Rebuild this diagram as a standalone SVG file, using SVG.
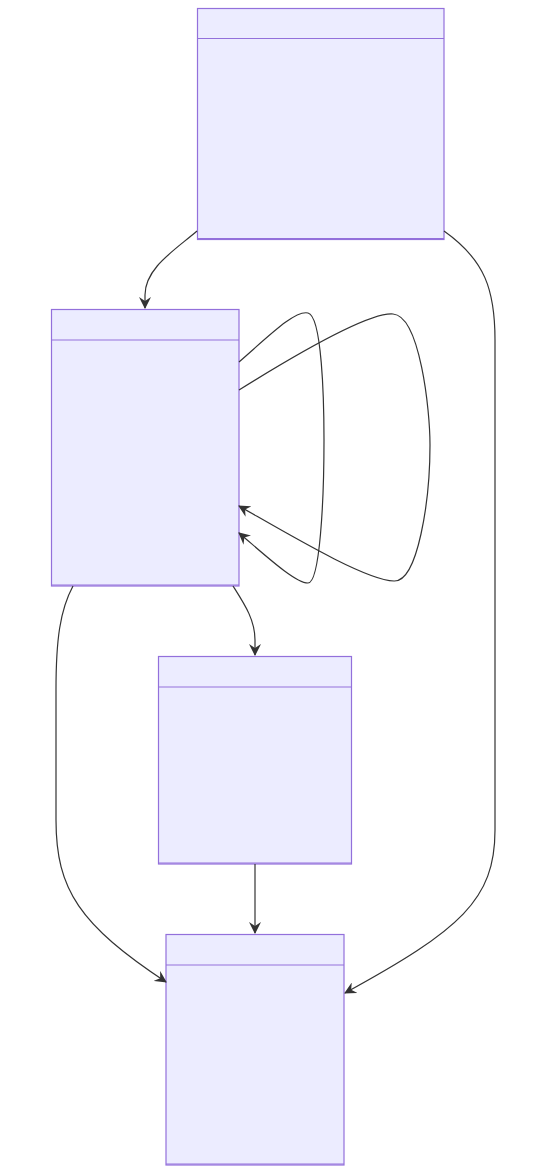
<svg xmlns="http://www.w3.org/2000/svg" width="539" height="1174" viewBox="0 0 539 1174">
<style>
.box{fill:#ECECFF;stroke:#9370DB;stroke-width:1.2}
.div{stroke:#9370DB;stroke-width:1.2}
.edge{fill:none;stroke:#333;stroke-width:1.2;marker-end:url(#arr)}
</style>
<defs>
<marker id="arr" viewBox="0 0 12 12" refX="11" refY="6" markerWidth="12" markerHeight="12" markerUnits="userSpaceOnUse" orient="auto">
<path d="M0,0 L12,6 L0,12 L4,6 z" fill="#333"/>
</marker>
</defs>
<rect width="539" height="1174" fill="#fff"/>
<g id="nodeA"><rect class="box" x="197.5" y="8.5" width="246.5" height="231"/><line class="div" x1="197.5" y1="38.5" x2="444" y2="38.5"/><line class="div" x1="197.5" y1="238.5" x2="444" y2="238.5"/></g>
<g id="nodeB"><rect class="box" x="51.5" y="309.5" width="187.5" height="276.5"/><line class="div" x1="51.5" y1="340" x2="239" y2="340"/><line class="div" x1="51.5" y1="585" x2="239" y2="585"/></g>
<g id="nodeC"><rect class="box" x="158.5" y="656.5" width="193" height="207.5"/><line class="div" x1="158.5" y1="687" x2="351.5" y2="687"/><line class="div" x1="158.5" y1="863" x2="351.5" y2="863"/></g>
<g id="nodeD"><rect class="box" x="166" y="934.5" width="178" height="230.5"/><line class="div" x1="166" y1="965" x2="344" y2="965"/><line class="div" x1="166" y1="1164" x2="344" y2="1164"/></g>
<g id="edges">
<path class="edge" d="M197,231 C175,250 145,268 145,295 L145,308"/>
<path class="edge" d="M444,231 C485,260 495,290 495,340 L495,830 C495,900 460,930 345,993"/>
<path class="edge" d="M239,362 C270,335 295,310 308,313 C322,316 324,400 324,440 C324,500 320,583 308,583 C295,583 265,555 239,533"/>
<path class="edge" d="M239,390 C300,352 370,312 393,314 C420,316 430,410 430,445 C430,500 418,582 394,581 C365,580 290,535 239,506"/>
<path class="edge" d="M233,586 C245,605 255,620 255,640 L255,655"/>
<path class="edge" d="M73,586 C60,610 56,640 56,690 L56,820 C56,890 80,925 166,982"/>
<path class="edge" d="M255,864 L255,933"/>
</g>
</svg>
